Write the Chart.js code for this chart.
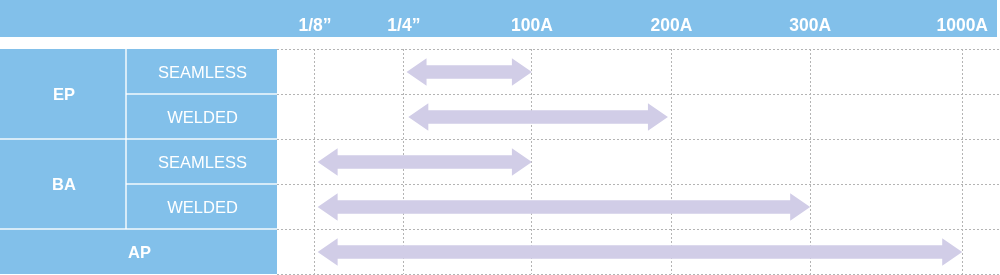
<!DOCTYPE html>
<html><head><meta charset="utf-8">
<script src="https://cdn.jsdelivr.net/npm/chart.js@4"></script>
<style>html,body{margin:0;padding:0;background:#fff}#wrap{width:1000px;height:275px}</style>
</head><body><div id="wrap"><canvas id="c" width="1000" height="275"></canvas></div>
<script>
// ---- data ----
const rowLabels = ['EP SEAMLESS', 'EP WELDED', 'BA SEAMLESS', 'BA WELDED', 'AP'];
const groupLabels = ['EP', 'EP', 'BA', 'BA', 'AP'];
const subLabels = ['SEAMLESS', 'WELDED', 'SEAMLESS', 'WELDED', ''];
const tickLabels = ['1/8”', '1/4”', '100A', '200A', '300A', '1000A'];
const tickValues = [1, 2, 3.44, 5.01, 6.57, 8.28];
const rangeStart = [2.03, 2.05, 1.03, 1.03, 1.03];
const rangeEnd = [3.44, 4.97, 3.44, 6.57, 8.28];

// ---- styles ----
const BLUE = 'rgb(130,192,234)';
const ARROW = 'rgb(209,205,231)';
const FONT = '"Liberation Sans", Arial, Helvetica, sans-serif';

const panelPlugin = {
  id: 'panel',
  beforeDraw(chart) {
    const ctx = chart.ctx;
    const ys = chart.scales.y;
    const area = chart.chartArea;
    const half = (ys.getPixelForValue(1) - ys.getPixelForValue(0)) / 2;
    const split = 126;
    ctx.save();
    // header band
    ctx.fillStyle = BLUE;
    ctx.fillRect(0, 0, 997, 37);
    // panel background
    const top = ys.getPixelForValue(0) - half;
    const bottom = ys.getPixelForValue(rowLabels.length - 1) + half;
    ctx.fillRect(0, top, area.left, bottom - top);
    ctx.strokeStyle = 'rgba(255,255,255,0.9)';
    ctx.lineWidth = 1.5;
    ctx.fillStyle = '#fff';
    ctx.textBaseline = 'middle';
    ctx.textAlign = 'center';
    let i = 0;
    while (i < groupLabels.length) {
      let j = i;
      while (j + 1 < groupLabels.length && groupLabels[j + 1] === groupLabels[i]) j++;
      const gTop = ys.getPixelForValue(i) - half;
      const gBot = ys.getPixelForValue(j) + half;
      const hasSub = subLabels[i] !== '';
      ctx.font = 'bold 16.5px ' + FONT;
      if (hasSub) {
        ctx.fillText(groupLabels[i], split / 2 + 1, (gTop + gBot) / 2 + 1.5);
        ctx.beginPath();
        ctx.moveTo(split, gTop); ctx.lineTo(split, gBot); ctx.stroke();
        ctx.font = '16.5px ' + FONT;
        for (let k = i; k <= j; k++) {
          const cy = ys.getPixelForValue(k);
          ctx.fillText(subLabels[k], (split + area.left) / 2 + 1, cy + 1.5);
          if (k > i) {
            ctx.beginPath();
            ctx.moveTo(split, cy - half); ctx.lineTo(area.left, cy - half); ctx.stroke();
          }
        }
      } else {
        ctx.fillText(groupLabels[i], area.left / 2 + 1, (gTop + gBot) / 2 + 1.5);
      }
      if (i > 0) {
        ctx.beginPath();
        ctx.moveTo(0, gTop); ctx.lineTo(area.left, gTop); ctx.stroke();
      }
      i = j + 1;
    }
    ctx.restore();
  }
};

const arrowPlugin = {
  id: 'arrows',
  afterDatasetsDraw(chart) {
    const ctx = chart.ctx;
    const meta = chart.getDatasetMeta(0);
    const shaft = 13.5, headH = 27.5, headL = 20;
    ctx.save();
    ctx.fillStyle = ARROW;
    meta.data.forEach(bar => {
      const x0 = Math.min(bar.base, bar.x), x1 = Math.max(bar.base, bar.x), y = bar.y + 0.5;
      ctx.beginPath();
      ctx.moveTo(x0, y);
      ctx.lineTo(x0 + headL, y - headH / 2);
      ctx.lineTo(x0 + headL, y - shaft / 2);
      ctx.lineTo(x1 - headL, y - shaft / 2);
      ctx.lineTo(x1 - headL, y - headH / 2);
      ctx.lineTo(x1, y);
      ctx.lineTo(x1 - headL, y + headH / 2);
      ctx.lineTo(x1 - headL, y + shaft / 2);
      ctx.lineTo(x0 + headL, y + shaft / 2);
      ctx.lineTo(x0 + headL, y + headH / 2);
      ctx.closePath();
      ctx.fill();
    });
    ctx.restore();
  }
};

new Chart(document.getElementById('c'), {
  type: 'bar',
  data: {
    labels: rowLabels,
    datasets: [{
      data: rangeStart.map((s, i) => [s, rangeEnd[i]]),
      backgroundColor: 'rgba(0,0,0,0)',
      borderWidth: 0
    }]
  },
  options: {
    indexAxis: 'y',
    responsive: false,
    animation: false,
    events: [],
    layout: { padding: { left: 0, right: 0, top: 0, bottom: 1 } },
    plugins: { legend: { display: false }, tooltip: { enabled: false } },
    scales: {
      x: {
        type: 'linear',
        position: 'top',
        min: 0.573,
        max: 8.697,
        afterBuildTicks: s => { s.ticks = tickValues.map(v => ({ value: v })); },
        afterFit: s => { s.height = 49; },
        ticks: {
          autoSkip: false,
          maxRotation: 0,
          color: '#fff',
          padding: 12,
          font: { family: FONT, size: 17.5, weight: 'bold' },
          callback: (v, i) => tickLabels[i]
        },
        grid: { color: '#b4b4b4', lineWidth: 1, drawTicks: false },
        border: { display: false, dash: [2, 2] }
      },
      y: {
        type: 'category',
        afterFit: s => { s.width = 277; },
        ticks: { display: false },
        grid: { color: '#b4b4b4', lineWidth: 1, drawTicks: false, offset: true },
        border: { display: false, dash: [2, 2] }
      }
    }
  },
  plugins: [panelPlugin, arrowPlugin]
});
</script>
</body></html>
